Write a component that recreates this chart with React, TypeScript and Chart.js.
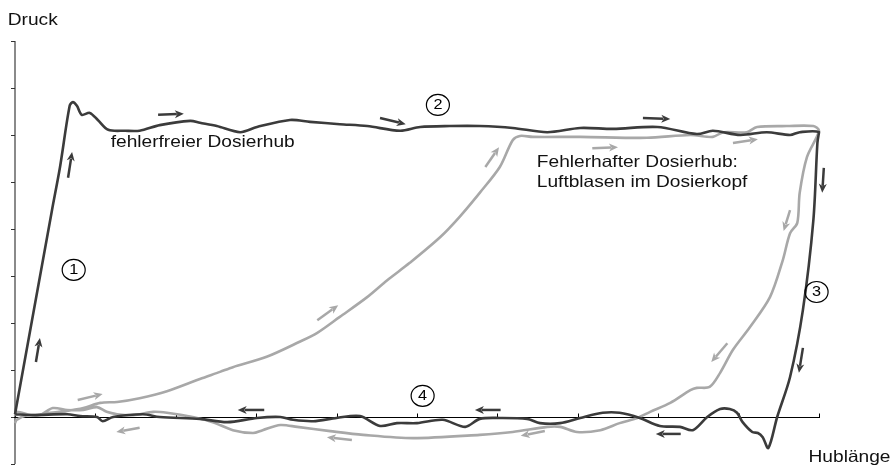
import { useEffect, useRef } from "react";
import { Chart, registerables } from "chart.js";

Chart.register(...registerables);

// Axis ticks (data units)
const xTicks = [0, 1, 2, 3, 4, 5, 6, 7, 8, 9, 10];
const yTicks = [-1, 0, 1, 2, 3, 4, 5, 6, 7, 8];

// Error-free dosing stroke (Hublänge, Druck)
const fehlerfreierHub: [number, number][] = [
  [0, 0.06], [0.46, 4.4], [0.56, 5.32], [0.68, 6.62], [0.72, 6.7], [0.77, 6.62],
  [0.83, 6.43], [0.93, 6.47], [1.03, 6.32], [1.16, 6.11], [1.37, 6.09], [1.55, 6.09],
  [1.8, 6.21], [2.18, 6.3], [2.3, 6.26], [2.51, 6.19], [2.8, 6.06], [3.01, 6.17],
  [3.42, 6.32], [3.67, 6.28], [4.04, 6.23], [4.38, 6.19], [4.79, 6.09], [5.04, 6.17],
  [5.41, 6.19], [5.78, 6.19], [6.19, 6.15], [6.62, 6.06], [7.03, 6.15], [7.44, 6.13],
  [7.99, 6.17], [8.48, 6.02], [8.68, 6.09], [9.02, 6.0], [9.35, 6.06], [9.64, 6.0],
  [9.76, 6.06], [10.0, 6.06], [9.98, 5.83], [9.93, 4.19], [9.8, 2.28], [9.64, 0.85],
  [9.48, 0], [9.37, -0.66], [9.3, -0.43], [9.24, -0.34], [9.17, -0.32], [9.05, -0.11],
  [8.98, 0.09], [8.89, 0.17], [8.77, 0.17], [8.61, 0], [8.43, -0.28], [8.27, -0.21],
  [8.02, -0.19], [7.77, -0.02], [7.52, 0.09], [7.31, 0.09], [7.03, -0.02], [6.78, -0.13],
  [6.53, -0.13], [6.37, -0.04], [6.03, -0.02], [5.78, -0.04], [5.6, -0.21], [5.32, -0.06],
  [5.0, -0.13], [4.75, -0.13], [4.54, -0.19], [4.29, 0.02], [4.0, -0.02], [3.71, -0.09],
  [3.46, -0.06], [3.3, 0], [3.01, -0.02], [2.64, -0.11], [2.3, -0.04], [1.8, 0],
  [1.59, 0.06], [1.22, 0], [1.09, -0.09], [1.02, 0], [0.81, 0.02], [0.65, 0.06],
  [0.22, 0.04], [0, 0.06],
];

// Faulty dosing stroke: air bubbles in the dosing head
const fehlerhafterHub: [number, number][] = [
  [0, 0.02], [0.02, 0.11], [0.22, 0.04], [0.44, 0.09], [0.65, 0.13], [0.85, 0.19],
  [1.06, 0.3], [1.27, 0.32], [1.55, 0.4], [1.89, 0.55], [2.3, 0.81], [2.55, 0.96],
  [2.71, 1.06], [3.13, 1.28], [3.54, 1.6], [3.76, 1.79], [4.04, 2.13], [4.38, 2.55],
  [4.63, 2.91], [4.91, 3.28], [5.29, 3.83], [5.53, 4.26], [5.78, 4.77], [6.03, 5.32],
  [6.19, 5.89], [6.28, 5.98], [6.44, 5.96], [7.03, 5.96], [7.86, 5.94], [8.4, 6.0],
  [8.68, 5.96], [8.81, 6.06], [9.1, 6.06], [9.23, 6.17], [9.6, 6.19], [9.93, 6.19],
  [10.0, 6.09], [9.85, 5.53], [9.76, 4.77], [9.73, 4.13], [9.64, 3.91], [9.55, 3.34],
  [9.39, 2.55], [9.14, 1.91], [8.93, 1.43], [8.77, 0.94], [8.64, 0.64], [8.48, 0.62],
  [8.4, 0.57], [8.15, 0.3], [7.9, 0.11], [7.74, -0.02], [7.52, -0.13], [7.28, -0.28],
  [6.99, -0.32], [6.78, -0.21], [6.62, -0.21], [6.19, -0.32], [5.78, -0.38], [4.95, -0.45],
  [4.33, -0.38], [3.92, -0.3], [3.51, -0.21], [3.3, -0.17], [3.08, -0.28], [2.96, -0.34],
  [2.71, -0.28], [2.46, -0.11], [2.21, 0], [1.89, 0.09], [1.72, 0.11], [1.47, 0.04],
  [1.27, 0.06], [1.14, 0.11], [1.02, 0.21], [0.85, 0.15], [0.65, 0.15], [0.47, 0.19],
  [0.31, 0.04], [0.15, 0.04], [0.02, -0.06], [0, -0.13],
];

// Direction arrows: [tailX, tailY, headX, headY] in data units
const darkArrows: [number, number, number, number][] = [
  [0.26, 1.17, 0.31, 1.68], [0.66, 5.09, 0.71, 5.64], [1.78, 6.43, 2.1, 6.45],
  [4.54, 6.36, 4.86, 6.23], [7.81, 6.36, 8.15, 6.34], [10.06, 5.3, 10.04, 4.77],
  [9.8, 1.47, 9.75, 0.94], [8.28, -0.36, 7.97, -0.36], [6.04, 0.15, 5.72, 0.15],
  [3.1, 0.15, 2.77, 0.15],
];
const grayArrows: [number, number, number, number][] = [
  [0.78, 0.36, 1.09, 0.49], [3.76, 2.06, 4.02, 2.38], [5.85, 5.32, 6.02, 5.74],
  [7.18, 5.72, 7.5, 5.74], [8.93, 5.83, 9.24, 5.91], [9.64, 4.4, 9.56, 3.96],
  [8.86, 1.57, 8.66, 1.17], [6.59, -0.3, 6.29, -0.4], [4.19, -0.49, 3.88, -0.43],
  [1.55, -0.23, 1.26, -0.32],
];

// Circled phase numbers
const phaseLabels = ["1", "2", "3", "4"];
const phaseX = [0.73, 5.26, 9.97, 5.07];
const phaseY = [3.13, 6.64, 2.66, 0.45];

// Text labels
const textLabels = ["Druck", "Hublänge", "fehlerfreier Dosierhub", "Fehlerhafter Dosierhub:", "Luftblasen im Dosierkopf"];
const textX = [-0.09, 9.87, 1.19, 6.49, 6.49];
const textY = [8.34, -0.96, 5.74, 5.32, 4.89];

const DARK = "#3b3b3b";
const GRAY = "#a8a8a8";
const FONT = '"Liberation Sans", Arial, sans-serif';
const STRETCH = 1.16;

function drawArrow(ctx: CanvasRenderingContext2D, x1: number, y1: number, x2: number, y2: number, color: string) {
  const ang = Math.atan2(y2 - y1, x2 - x1);
  const headLen = 9;
  const headW = 4;
  const bx = x2 - Math.cos(ang) * headLen;
  const by = y2 - Math.sin(ang) * headLen;
  ctx.strokeStyle = color;
  ctx.fillStyle = color;
  ctx.lineWidth = 2.5;
  ctx.lineCap = "butt";
  ctx.beginPath();
  ctx.moveTo(x1, y1);
  ctx.lineTo(bx + Math.cos(ang) * 2, by + Math.sin(ang) * 2);
  ctx.stroke();
  ctx.beginPath();
  ctx.moveTo(x2, y2);
  ctx.lineTo(bx + Math.cos(ang + Math.PI / 2) * headW, by + Math.sin(ang + Math.PI / 2) * headW);
  ctx.lineTo(bx + Math.cos(ang) * 2.5, by + Math.sin(ang) * 2.5);
  ctx.lineTo(bx + Math.cos(ang - Math.PI / 2) * headW, by + Math.sin(ang - Math.PI / 2) * headW);
  ctx.closePath();
  ctx.fill();
}

const overlayPlugin = {
  id: "overlay",
  beforeDatasetsDraw(chart: any) {
    const { ctx } = chart;
    const xs = chart.scales.x;
    const ys = chart.scales.y;
    const x0 = Math.round(xs.getPixelForValue(0));
    const y0 = Math.round(ys.getPixelForValue(0));
    ctx.save();
    // y axis
    ctx.strokeStyle = "#8a8a8a";
    ctx.lineWidth = 2;
    ctx.beginPath();
    ctx.moveTo(x0, ys.getPixelForValue(yTicks[yTicks.length - 1]));
    ctx.lineTo(x0, ys.getPixelForValue(yTicks[0]));
    ctx.stroke();
    ctx.strokeStyle = "#333";
    ctx.lineWidth = 1;
    for (const t of yTicks) {
      const p = Math.round(ys.getPixelForValue(t)) + 0.5;
      ctx.beginPath();
      ctx.moveTo(x0 - 4, p);
      ctx.lineTo(x0, p);
      ctx.stroke();
    }
    // x axis
    ctx.strokeStyle = "#000";
    ctx.lineWidth = 1;
    ctx.beginPath();
    ctx.moveTo(x0 - 1, y0 + 0.5);
    ctx.lineTo(xs.getPixelForValue(xTicks[xTicks.length - 1]) + 1, y0 + 0.5);
    ctx.stroke();
    for (const t of xTicks) {
      const p = Math.round(xs.getPixelForValue(t)) + 0.5;
      ctx.beginPath();
      ctx.moveTo(p, y0 + 0.5);
      ctx.lineTo(p, y0 - 3.5);
      ctx.stroke();
    }
    ctx.restore();
  },
  afterDatasetsDraw(chart: any) {
    const { ctx } = chart;
    const xs = chart.scales.x;
    const ys = chart.scales.y;
    const px = (v: number) => xs.getPixelForValue(v);
    const py = (v: number) => ys.getPixelForValue(v);
    ctx.save();
    for (const a of grayArrows) drawArrow(ctx, px(a[0]), py(a[1]), px(a[2]), py(a[3]), GRAY);
    for (const a of darkArrows) drawArrow(ctx, px(a[0]), py(a[1]), px(a[2]), py(a[3]), DARK);

    // circled numbers
    for (let i = 0; i < phaseLabels.length; i++) {
      const cx = px(phaseX[i]);
      const cy = py(phaseY[i]);
      ctx.strokeStyle = "#000";
      ctx.lineWidth = 1.2;
      ctx.beginPath();
      ctx.ellipse(cx, cy, 11.5, 10.5, 0, 0, Math.PI * 2);
      ctx.stroke();
      ctx.save();
      ctx.translate(cx, cy + 0.5);
      ctx.scale(STRETCH, 1);
      ctx.fillStyle = "#000";
      ctx.font = `14px ${FONT}`;
      ctx.textAlign = "center";
      ctx.textBaseline = "middle";
      ctx.fillText(phaseLabels[i], 0, 0);
      ctx.restore();
    }

    // text labels
    for (let i = 0; i < textLabels.length; i++) {
      ctx.save();
      ctx.translate(px(textX[i]), py(textY[i]));
      ctx.scale(STRETCH, 1);
      ctx.fillStyle = "#111";
      ctx.font = `16.5px ${FONT}`;
      ctx.textAlign = "left";
      ctx.textBaseline = "alphabetic";
      ctx.fillText(textLabels[i], 0, 0);
      ctx.restore();
    }
    ctx.restore();
  },
};

export default function App() {
  const canvasRef = useRef<HTMLCanvasElement | null>(null);

  useEffect(() => {
    const canvas = canvasRef.current;
    if (!canvas) return;
    const chart = new Chart(canvas, {
      type: "scatter",
      data: {
        datasets: [
          {
            label: "fehlerfreier Dosierhub",
            data: fehlerfreierHub.map(([x, y]) => ({ x, y })),
            showLine: true,
            borderColor: DARK,
            borderWidth: 2.6,
            pointRadius: 0,
            tension: 0.3,
            clip: false as any,
          },
          {
            label: "Fehlerhafter Dosierhub",
            data: fehlerhafterHub.map(([x, y]) => ({ x, y })),
            showLine: true,
            borderColor: GRAY,
            borderWidth: 2.6,
            pointRadius: 0,
            tension: 0.3,
            clip: false as any,
          },
        ],
      },
      options: {
        animation: false,
        responsive: false,
        maintainAspectRatio: false,
        devicePixelRatio: 1,
        layout: { padding: { left: 15, right: 75, top: 41, bottom: 3 } },
        plugins: { legend: { display: false }, tooltip: { enabled: false } },
        events: [],
        scales: {
          x: { type: "linear", min: 0, max: 10, display: false },
          y: { type: "linear", min: -1, max: 8, display: false },
        },
      },
      plugins: [overlayPlugin],
    });
    return () => chart.destroy();
  }, []);

  return (
    <div style={{ position: "fixed", left: 0, top: 0, width: 894, height: 467, background: "#fff" }}>
      <canvas ref={canvasRef} width={894} height={467} style={{ display: "block" }} />
    </div>
  );
}
